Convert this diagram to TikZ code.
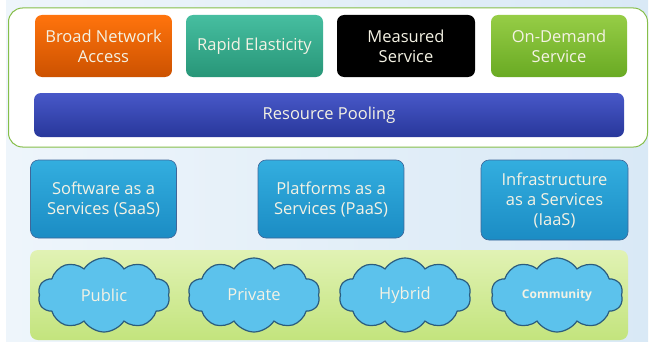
\documentclass[tikz,border=0pt]{standalone}
\usepackage{fontspec}
\setmainfont{Open Sans}
\usetikzlibrary{shapes.symbols}
\definecolor{bgblue}{HTML}{D9E9F6}
\definecolor{bglight}{HTML}{EEF5FB}
\definecolor{frame}{HTML}{86BE4A}
\definecolor{txt}{HTML}{F4F2E4}
\definecolor{svcA}{HTML}{33AEDF}
\definecolor{svcB}{HTML}{1B8CC4}
\definecolor{cloudline}{HTML}{2B5C7E}
\definecolor{cloudfill}{HTML}{5CC2EC}
\tikzset{
  lbl/.style={font=\fontsize{16.5}{20}\selectfont},
  feat/.style={lbl, rounded corners=7pt, minimum width=137pt, minimum height=62pt, align=center, text=txt, inner sep=2pt},
  svc/.style={lbl, rounded corners=8pt, draw=cyan!50!blue!70!black, line width=0.6pt, top color=svcA, bottom color=svcB, minimum width=146pt, minimum height=78pt, align=center, text=txt},
  cl/.style={lbl, cloud, cloud puffs=10, cloud puff arc=115, cloud ignores aspect, draw=cloudline, line width=1.2pt, fill=cloudfill, minimum width=132pt, minimum height=74pt, text=txt},
}
\begin{document}
\begin{tikzpicture}[x=1pt,y=-1pt]
\useasboundingbox (0,0) rectangle (652,345);
\fill[white] (0,0) rectangle (652,345);
\shade[left color=bglight, right color=bgblue] (6,1) rectangle (648,341);
\node[draw=frame, line width=1pt, fill=white, rounded corners=14pt, minimum width=639pt, minimum height=139pt, inner sep=0pt] (top) at (328,77.5) {};
\node[feat, top color=orange!85!red!95!white, bottom color=orange!80!red!80!black] (bna) at (103.5,46) {Broad Network\\Access};
\node[feat, top color={rgb,255:red,70;green,190;blue,160}, bottom color={rgb,255:red,40;green,150;blue,120}] (re) at (254.5,46) {Rapid Elasticity};
\node[feat, fill=black, minimum width=138pt] (ms) at (406,46) {Measured\\Service};
\node[feat, top color={rgb,255:red,150;green,205;blue,70}, bottom color={rgb,255:red,105;green,170;blue,35}, minimum width=136pt] (od) at (559,46) {On-Demand\\Service};
\node[lbl, rounded corners=7pt, top color={rgb,255:red,72;green,88;blue,200}, bottom color={rgb,255:red,40;green,55;blue,155}, minimum width=590pt, minimum height=44pt, text=txt] (rp) at (329,115) {Resource Pooling};
\node[svc] (saas) at (103.5,199) {Software as a\\Services (SaaS)};
\node[svc] (paas) at (331,199) {Platforms as a\\Services (PaaS)};
\node[svc, minimum width=147pt, minimum height=80pt] (iaas) at (554.5,200) {Infrastructure\\as a Services\\(IaaS)};
\node[rounded corners=8pt, top color={rgb,255:red,225;green,242;blue,180}, bottom color={rgb,255:red,195;green,228;blue,125}, minimum width=598pt, minimum height=90pt] (band) at (329,295) {};
\node[cl] (pub) at (104,295) {Public};
\node[cl] (pri) at (254,295) {Private};
\node[cl] (hyb) at (405,295) {Hybrid};
\node[cl, font=\fontsize{12}{14}\selectfont\bfseries] (com) at (557,295) {Community};
\end{tikzpicture}
\end{document}
